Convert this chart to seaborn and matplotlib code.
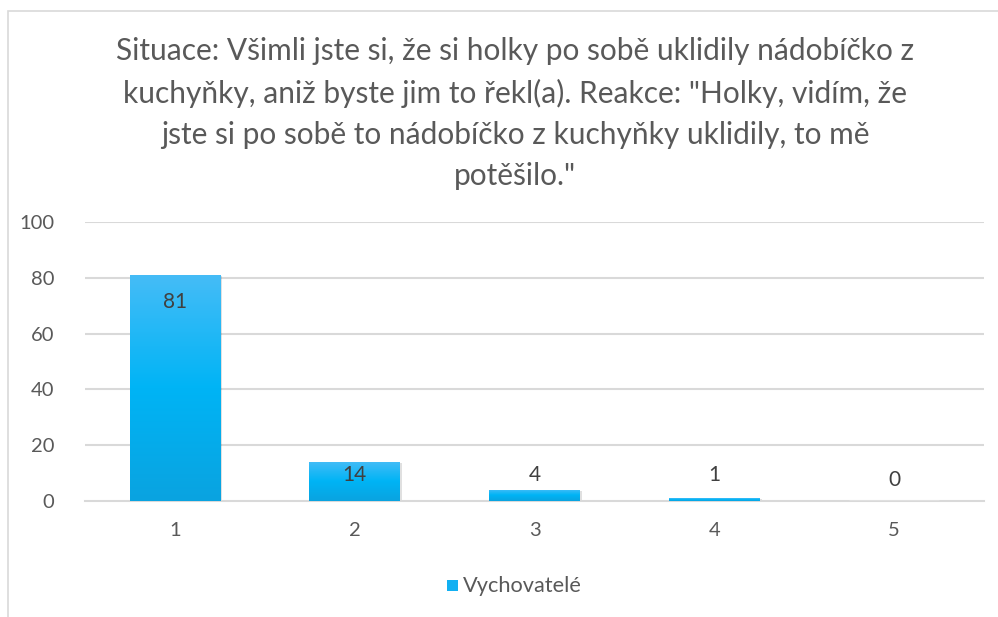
import numpy as np
import pandas as pd
import matplotlib
matplotlib.use("Agg")
import matplotlib.pyplot as plt
import seaborn as sns
from matplotlib.patches import Rectangle
from matplotlib.colors import LinearSegmentedColormap

categories = ["1", "2", "3", "4", "5"]
values = [81, 14, 4, 1, 0]
series_name = "Vychovatelé"
yticks = [0, 20, 40, 60, 80, 100]
title = ('Situace: Všimli jste si, že si holky po sobě uklidily nádobíčko z\n'
         'kuchyňky, aniž byste jim to řekl(a). Reakce: "Holky, vidím, že\n'
         'jste si po sobě to nádobíčko z kuchyňky uklidily, to mě\n'
         'potěšilo."')

sns.set_theme(style="white")
plt.rcParams['font.family'] = ['Lato', 'DejaVu Sans']

TEXT = "#595959"
GRID = "#d9d9d9"

fig = plt.figure(figsize=(9.98, 6.17), dpi=100)
ax = fig.add_axes([85/998, 1-501/617, (984-85)/998, (501-222)/617])

df = pd.DataFrame({"cat": categories, "val": values, "series": series_name})
sns.barplot(data=df, x="cat", y="val", hue="series", palette=["#00b0f0"],
            width=0.505, ax=ax, legend=False, zorder=3)

ax.set_ylim(0, 100)
ax.set_xlim(-0.5, len(categories) - 0.5)
ax.set_yticks(yticks)
ax.set_yticklabels([str(t) for t in yticks])
for t in yticks[1:]:
    ax.axhline(t, color=GRID, lw=1.5, zorder=1)
for s in ["top", "right", "left"]:
    ax.spines[s].set_visible(False)
ax.spines["bottom"].set_color(GRID)
ax.spines["bottom"].set_linewidth(1.5)
ax.tick_params(axis="both", length=0, labelsize=14.5, colors=TEXT)
ax.tick_params(axis="y", pad=22)
ax.tick_params(axis="x", pad=15)
ax.set_xlabel("")
ax.set_ylabel("")

# gradient fill
cmap = LinearSegmentedColormap.from_list("g", ["#0aa3e0", "#00b4f5", "#45bcf7"])
grad = np.linspace(0, 1, 256).reshape(-1, 1)
for p in list(ax.patches):
    h = p.get_height()
    if h <= 0:
        continue
    x0 = p.get_x(); w = p.get_width()
    sh = Rectangle((x0 + 0.012, 0), w, h - 0.4, facecolor="#000000", alpha=0.12,
                   edgecolor="none", zorder=2.5)
    ax.add_patch(sh)
    im = ax.imshow(grad, extent=[x0, x0 + w, 0, h], origin="lower", cmap=cmap,
                   aspect="auto", zorder=3.5)
    im.set_clip_path(p)
    p.set_edgecolor("none")

# data labels
for i, v in enumerate(values):
    if v > 50:
        y = v - 9.7
    elif v > 0:
        y = 9.2
    else:
        y = 7.5
    ax.text(i, y, str(v), ha="center", va="center", fontsize=15, color="#404040", zorder=5)

fig.suptitle(title, x=515/998, y=1-37/617, va="top", fontsize=21.5, color=TEXT,
             linespacing=1.57)

# legend
fig.patches.append(Rectangle((447/998, 1-591/617), 11/998, 11/617, transform=fig.transFigure,
                             facecolor="#12b0f2", edgecolor="none"))
fig.text(463/998, 1-586/617, series_name, ha="left", va="center", fontsize=15.7, color=TEXT)

# chart frame
fig.patches.append(Rectangle((8/998, -0.05), 1.1, 1-11/617+0.05, transform=fig.transFigure,
                             facecolor="none", edgecolor=GRID, lw=1.2, zorder=0))

ax.set_xticks(range(len(categories)))
ax.set_xticklabels(categories)

fig.savefig("out.png", dpi=100)
